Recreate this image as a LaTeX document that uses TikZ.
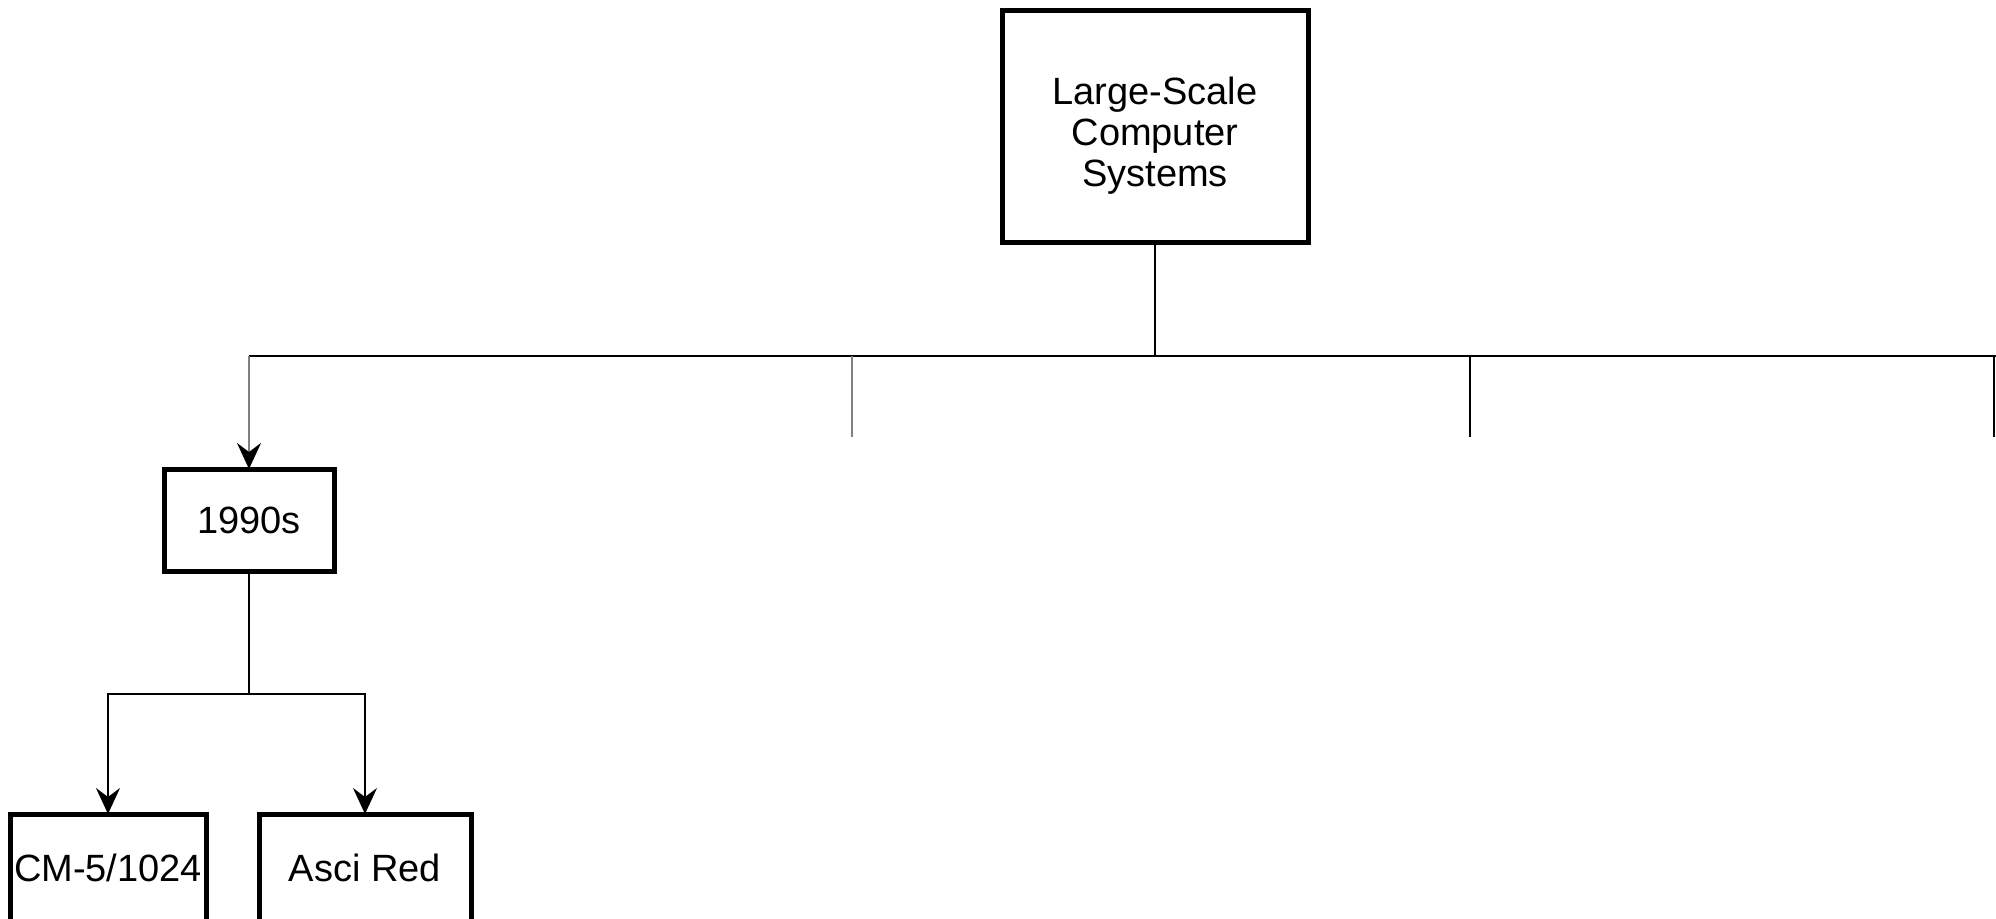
\documentclass[tikz,border=0pt]{standalone}
\usepackage{fontspec}
\setmainfont{Liberation Sans}
\usetikzlibrary{arrows.meta}

\begin{document}
\begin{tikzpicture}[
  x=0.5pt, y=-0.5pt,
  box/.style={draw=black, line width=2.5pt, fill=white, inner sep=0pt, outer sep=0pt,
              align=center, font=\fontsize{19pt}{21pt}\selectfont},
  link/.style={draw=black, line width=1.3pt},
  faint/.style={link, draw=black!50},
  tip/.style={-{Stealth[length=13pt, width=12pt, inset=4.5pt, color=black]}}
]
  % page frame
  \useasboundingbox (0,0) rectangle (1996,919);
  \clip (0,0) rectangle (1996,919);

  % boxes
  \node[box, minimum width=153pt, minimum height=116pt] (root) at (1155,127)
       {\raisebox{-8.5pt}[0pt][0pt]{\parbox{150pt}{\centering\baselineskip=20.5pt
        Large-Scale\\Computer\\Systems}}};
  \node[box, minimum width=85pt, minimum height=51pt] (decade) at (249,520) {1990s};
  \node[box, minimum width=98pt, minimum height=54pt] (cm) at (108,868) {CM-5/1024};
  \node[box, minimum width=106pt, minimum height=54pt] (asci) at (365,868) {Asci Red};

  % bus and branch points
  \coordinate (busL) at (249,356);
  \coordinate (busR) at (1996,356);
  \coordinate (d2) at (852,437);
  \coordinate (d3) at (1470,437);
  \coordinate (d4) at (1994,437);
  \coordinate (split) at (249,694);

  % top-level connectors
  \draw[link] (root.south) -- (root.south |- busL);
  \draw[link] (busL) -- (busR);
  \draw[faint, tip] (busL) -- (decade.north);
  \draw[faint] (d2 |- busL) -- (d2);
  \draw[link] (d3 |- busL) -- (d3);
  \draw[link] (d4 |- busL) -- (d4);

  % second-level connectors
  \draw[link] (decade.south) -- (split);
  \draw[link, tip] (split) -| (cm.north);
  \draw[link, tip] (split) -| (asci.north);
\end{tikzpicture}
\end{document}
